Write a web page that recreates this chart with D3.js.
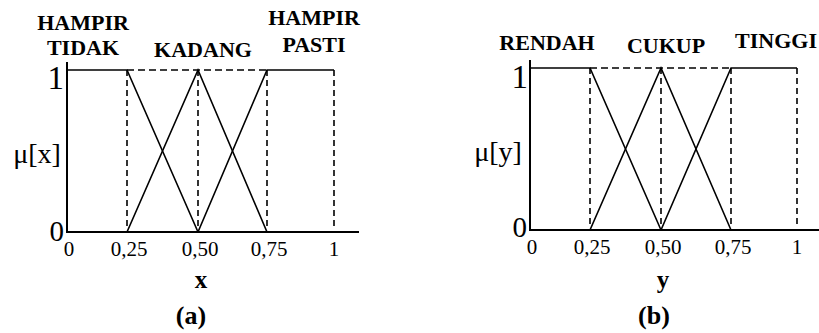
<!DOCTYPE html>
<html lang="en">
<head>
    <meta charset="UTF-8">
    <title>Fungsi Keanggotaan</title>
    <script src="https://d3js.org/d3.v7.min.js"></script>
    <style>
        body { margin: 0; background: #fff; }
        svg text { font-family: 'Liberation Serif', 'Times New Roman', serif; fill: #000; }
    </style>
</head>
<body>
<svg id="viz" width="819" height="333"></svg>
<script>
    // tick values and labels shared by both panels
    const tickValues = [0, 0.25, 0.5, 0.75, 1];
    const tickLabels = ["0", "0,25", "0,50", "0,75", "1"];

    // membership functions, panel (a)
    const namesA = [["HAMPIR", "TIDAK"], ["KADANG"], ["HAMPIR", "PASTI"]];
    const hampirTidak = [[0, 1], [0.25, 1], [0.5, 0]];
    const kadang = [[0.25, 0], [0.5, 1], [0.75, 0]];
    const hampirPasti = [[0.5, 0], [0.75, 1], [1, 1]];

    // membership functions, panel (b)
    const namesB = [["RENDAH"], ["CUKUP"], ["TINGGI"]];
    const rendah = [[0, 1], [0.25, 1], [0.5, 0]];
    const cukup = [[0.25, 0], [0.5, 1], [0.75, 0]];
    const tinggi = [[0.5, 0], [0.75, 1], [1, 1]];

    const svg = d3.select("#viz");

    // hand-drawn figure: tick spacing isn't even, so piecewise scales
    const panels = [
        {
            sets: [hampirTidak, kadang, hampirPasti], names: namesA,
            xRange: [67, 127, 198, 267, 334], axisEnd: 359,
            base: 232, top: 70, axisTop: 62,
            yLabel: "\u03bc[x]", yLabelX: 37, yLabelY: 163,
            xTitle: "x", xTitleX: 201, caption: "(a)", captionX: 191,
            namePos: [[83, [30, 55]], [203, [57]], [314, [25, 52]]],
            oneY: 89, zeroY: 241, oneRight: 64, zeroRight: 64, tickY: 256
        },
        {
            sets: [rendah, cukup, tinggi], names: namesB,
            xRange: [530, 590, 661, 731, 797], axisEnd: 822,
            base: 230, top: 68, axisTop: 60,
            yLabel: "\u03bc[y]", yLabelX: 498, yLabelY: 161,
            xTitle: "y", xTitleX: 663, caption: "(b)", captionX: 654,
            namePos: [[547, [50]], [666, [53]], [776, [48]]],
            oneY: 88, zeroY: 237, oneRight: 528, zeroRight: 527, tickY: 254
        }
    ];

    panels.forEach(p => {
        const x = d3.scaleLinear().domain(tickValues).range(p.xRange);
        const y = d3.scaleLinear().domain([0, 1]).range([p.base, p.top]);
        const g = svg.append("g");
        const line = d3.line().x(d => x(d[0])).y(d => y(d[1]));

        // dashed guides
        g.selectAll(".guide")
            .data(tickValues.slice(1))
            .enter().append("line")
            .attr("x1", d => x(d)).attr("x2", d => x(d))
            .attr("y1", y(1)).attr("y2", y(0) - 2)
            .attr("stroke", "#000").attr("stroke-width", 1.6)
            .attr("stroke-dasharray", "6,4");
        g.append("line")
            .attr("x1", x(0.25)).attr("x2", x(0.75))
            .attr("y1", y(1)).attr("y2", y(1))
            .attr("stroke", "#000").attr("stroke-width", 1.4)
            .attr("stroke-dasharray", "7,4");

        // membership lines
        g.selectAll(".mf")
            .data(p.sets)
            .enter().append("path")
            .attr("d", line)
            .attr("fill", "none")
            .attr("stroke", "#000")
            .attr("stroke-width", 1.6);

        // axes
        g.append("line")
            .attr("x1", x(0)).attr("x2", x(0))
            .attr("y1", p.axisTop).attr("y2", y(0) + 1)
            .attr("stroke", "#000").attr("stroke-width", 2);
        g.append("line")
            .attr("x1", x(0)).attr("x2", p.axisEnd)
            .attr("y1", y(0)).attr("y2", y(0))
            .attr("stroke", "#000").attr("stroke-width", 2);

        g.selectAll(".tick")
            .data(tickValues)
            .enter().append("text")
            .attr("x", (d, i) => x(d) + (i === 4 ? 0 : 2))
            .attr("y", p.tickY)
            .attr("text-anchor", "middle")
            .attr("font-size", 21)
            .text((d, i) => tickLabels[i]);

        g.append("text").attr("x", p.oneRight).attr("y", p.oneY)
            .attr("text-anchor", "end").attr("font-size", 33).text("1");
        g.append("text").attr("x", p.zeroRight).attr("y", p.zeroY)
            .attr("text-anchor", "end").attr("font-size", 29).text("0");

        g.append("text").attr("x", p.yLabelX).attr("y", p.yLabelY)
            .attr("text-anchor", "middle").attr("font-size", 28).text(p.yLabel);

        g.append("text").attr("x", p.xTitleX).attr("y", 288)
            .attr("text-anchor", "middle").attr("font-size", 25)
            .attr("font-weight", "bold").text(p.xTitle);
        g.append("text").attr("x", p.captionX).attr("y", 324)
            .attr("text-anchor", "middle").attr("font-size", 26)
            .attr("font-weight", "bold").text(p.caption);

        // set names above the functions
        p.names.forEach((lines, i) => {
            const [cx, ys] = p.namePos[i];
            lines.forEach((t, j) => {
                g.append("text").attr("x", cx).attr("y", ys[j])
                    .attr("text-anchor", "middle").attr("font-size", 22)
                    .attr("font-weight", "bold").text(t);
            });
        });
    });
</script>
</body>
</html>
